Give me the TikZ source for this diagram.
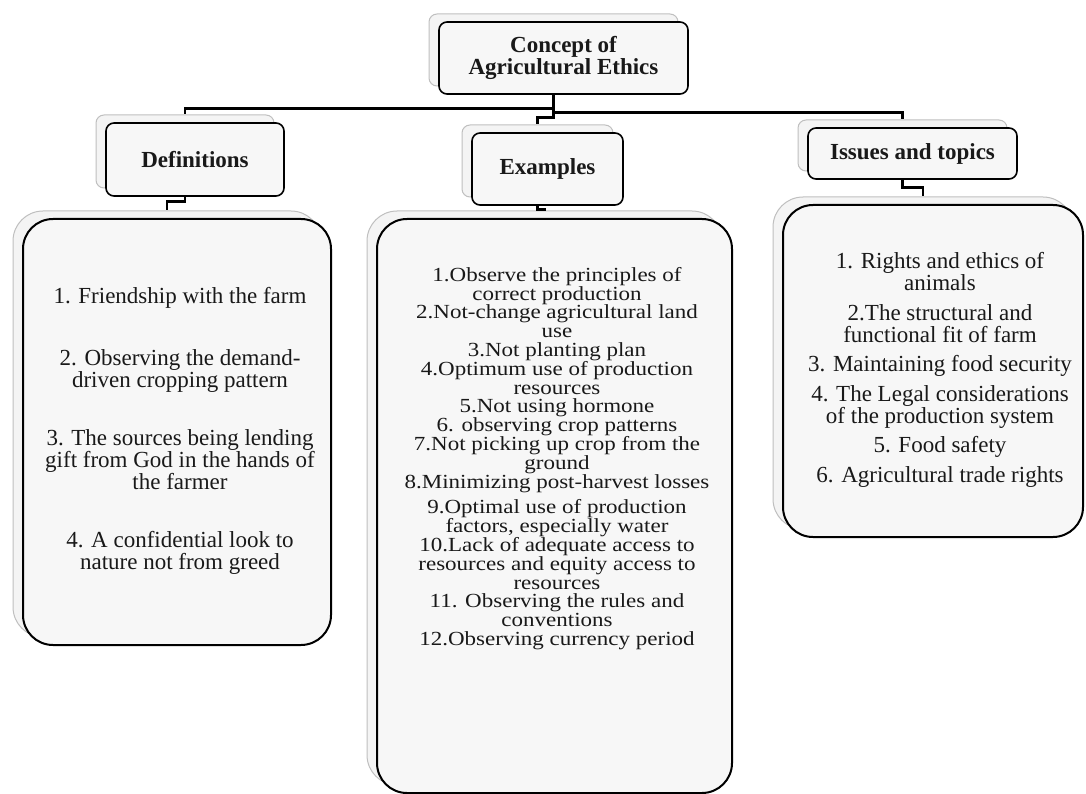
\documentclass[tikz,border=0pt]{standalone}
\usepackage{fontspec}
\setmainfont{Liberation Serif}
\newfontfamily\exfont[FakeStretch=1.15]{Liberation Serif}
\usepackage{tikz}

\begin{document}
\begin{tikzpicture}[x=1pt,y=-1pt,
    front/.style={draw=black,line width=1.6pt,fill=gray!6,rounded corners=8pt,inner sep=0pt,
      text=black!90,align=center,font=\bfseries\fontsize{23}{22}\selectfont},
    back/.style={draw=gray!50,line width=1pt,fill=gray!9,rounded corners=8pt,inner sep=0pt},
    bigfront/.style={front,line width=2pt,rounded corners=30pt},
    bigback/.style={back,rounded corners=30pt},
    items/.style={text=black!90,align=center,inner sep=0pt,font=\fontsize{23}{22}\selectfont},
    link/.style={line width=2.6pt}]
  \useasboundingbox (0,0) rectangle (1086,794);

  % back boxes
  \node[back,minimum width=249pt,minimum height=72pt] (topb) at (553.5,50) {};
  \node[back,minimum width=178pt,minimum height=73pt] (defhb) at (185,151.5) {};
  \node[back,minimum width=151pt,minimum height=72pt] (exhb) at (537.5,161) {};
  \node[back,minimum width=209pt,minimum height=51pt] (ishb) at (902.5,145.5) {};
  \node[bigback,minimum width=308pt,minimum height=426pt] (defb) at (167,424) {};
  \node[bigback,minimum width=355pt,minimum height=574pt] (exb) at (544.5,498) {};
  \node[bigback,minimum width=300pt,minimum height=332pt] (isb) at (923,363) {};

  % front boxes
  \node[front,minimum width=249pt,minimum height=72pt] (topf) at (563.5,58) {Concept of\\Agricultural Ethics};
  \node[front,minimum width=178pt,minimum height=73pt] (defhf) at (195,159.5) {Definitions};
  \node[front,minimum width=151pt,minimum height=72pt] (exhf) at (547.5,169) {Examples};
  \node[front,minimum width=209pt,minimum height=51pt] (ishf) at (912.5,153.5) {Issues and topics};
  \node[bigfront,minimum width=308pt,minimum height=426pt] (deff) at (177,432) {};
  \node[bigfront,minimum width=355pt,minimum height=574pt] (exf) at (554.5,506) {};
  \node[bigfront,minimum width=300pt,minimum height=332pt] (isf) at (933,371) {};

  % lists
  \node[items] (deftext) at (180,431) {1. Friendship with the farm\\[40pt]
    2. Observing the demand-\\driven cropping pattern\\[36pt]
    3. The sources being lending\\gift from God in the hands of\\the farmer\\[36pt]
    4. A confidential look to\\nature not from greed};
  \node[items,font=\exfont\fontsize{20}{18.8}\selectfont] (extext) at (557,458.5) {1.Observe the principles of\\correct production\\
    2.Not-change agricultural land\\use\\3.Not planting plan\\
    4.Optimum use of production\\resources\\5.Not using hormone\\
    6. observing crop patterns\\7.Not picking up crop from the\\ground\\
    8.Minimizing post-harvest losses\\[7pt]
    9.Optimal use of production\\factors, especially water\\
    10.Lack of adequate access to\\resources and equity access to\\resources\\
    11. Observing the rules and\\conventions\\12.Observing currency period};
  \node[items] (istext) at (940,370) {1. Rights and ethics of\\animals\\[7.5pt]
    2.The structural and\\functional fit of farm\\[7.5pt]
    3. Maintaining food security\\[7.5pt]
    4. The Legal considerations\\of the production system\\[7.5pt]
    5. Food safety\\[7.5pt]
    6. Agricultural trade rights};

  % connectors
  \draw[link] (topb.south |- topf.south) -- ++(0,23) -| (exhb.north);
  \draw[link] (topb.south |- topf.south) ++(0,14) -| (defhb.north);
  \draw[link] (topb.south |- topf.south) ++(0,18) -| (ishb.north);
  \draw[link] (defhb.south |- defhf.south) -- ++(0,5) -| (defb.north);
  \draw[link] (exhb.south |- exhf.south) -- ++(0,4) -| (exb.north);
  \draw[link] (ishb.south |- ishf.south) -- ++(0,8) -| (isb.north);
\end{tikzpicture}
\end{document}
